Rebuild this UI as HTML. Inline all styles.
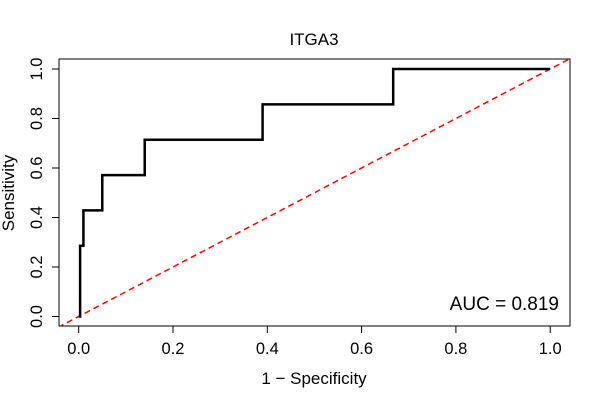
<!DOCTYPE html>
<html><head><meta charset="utf-8"><style>
body{margin:0;background:#fff;font-family:"Liberation Sans",Arial,sans-serif}
svg text{font-family:"Liberation Sans",Arial,sans-serif;fill:#000}
</style></head><body>
<svg id="chart" width="600" height="400">
<defs><clipPath id="plotclip"><rect x="59" y="59" width="511" height="267"/></clipPath></defs>
<text x="314" y="45" font-size="17" text-anchor="middle">ITGA3</text>
<rect x="59" y="59" width="511" height="267" fill="none" stroke="#000" stroke-width="1"/>
<g id="xaxis"></g>
<g id="yaxis"></g>
<text x="314" y="384" font-size="17" text-anchor="middle">1 − Specificity</text>
<text transform="translate(14,193) rotate(-90)" font-size="17" text-anchor="middle">Sensitivity</text>
<g clip-path="url(#plotclip)"><line id="diag" stroke="#ff0000" stroke-width="1.5" stroke-dasharray="6,4"/></g>
<path id="roc" fill="none" stroke="#000" stroke-width="2.5"/>
<text x="559" y="310" font-size="19" text-anchor="end">AUC = 0.819</text>
</svg>
<script>
const fpr = [0, 0.003, 0.003, 0.01, 0.01, 0.05, 0.05, 0.14, 0.14, 0.39, 0.39, 0.667, 0.667, 1.0];
const tpr = [0, 0, 0.2857, 0.2857, 0.4286, 0.4286, 0.5714, 0.5714, 0.7143, 0.7143, 0.8571, 0.8571, 1.0, 1.0];
const xTicks = [0, 0.2, 0.4, 0.6, 0.8, 1.0];
const yTicks = [0, 0.2, 0.4, 0.6, 0.8, 1.0];
const xTickLabels = ["0.0","0.2","0.4","0.6","0.8","1.0"];
const yTickLabels = ["0.0","0.2","0.4","0.6","0.8","1.0"];
const X = v => 78.7 + v * 471.5;
const Y = v => 316.5 - v * 247.5;
const NS = "http://www.w3.org/2000/svg";
const xa = document.getElementById('xaxis'), ya = document.getElementById('yaxis');
function mk(tag, attrs, parent){const e=document.createElementNS(NS,tag);for(const k in attrs)e.setAttribute(k,attrs[k]);parent.appendChild(e);return e;}
mk('line',{x1:X(0),x2:X(1),y1:326,y2:326,stroke:'#000'},xa);
xTicks.forEach((t,i)=>{
  const l=mk('line',{x1:X(t),x2:X(t),y1:326,y2:333,stroke:'#000'},xa);
  
  
  const tx=mk('text',{x:X(t),y:354,'font-size':16.5,'text-anchor':'middle'},xa);
  tx.textContent=xTickLabels[i];
  
  
});
mk('line',{x1:59,x2:59,y1:Y(0),y2:Y(1),stroke:'#000'},ya);
yTicks.forEach((t,i)=>{
  const l=mk('line',{x1:52,x2:59,y1:Y(t),y2:Y(t),stroke:'#000'},ya);
  
  
  const tx=mk('text',{x:0,y:0,'font-size':16.5,'text-anchor':'middle',transform:`translate(42,${Y(t)}) rotate(-90)`},ya);
  tx.textContent=yTickLabels[i];
  
  
});
const d = document.getElementById('diag');
d.setAttribute('x1',X(-0.1));d.setAttribute('y1',Y(-0.1));d.setAttribute('x2',X(1.1));d.setAttribute('y2',Y(1.1));
document.getElementById('roc').setAttribute('d', fpr.map((v,i)=>(i?'L':'M')+X(v)+','+Y(tpr[i])).join(' '));
</script>
</body></html>
